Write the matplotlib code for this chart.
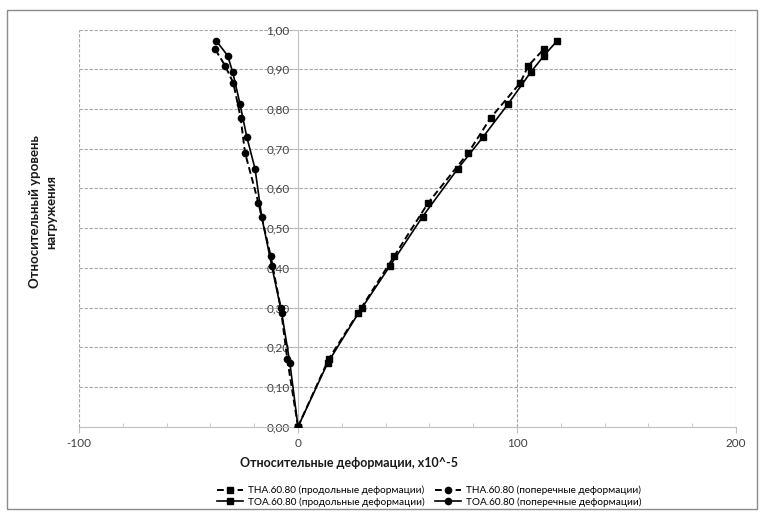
import matplotlib
matplotlib.use("Agg")
import matplotlib.pyplot as plt
from matplotlib.ticker import MultipleLocator, FixedLocator, FuncFormatter
from matplotlib.patches import Rectangle

plt.rcParams['font.family'] = ['Lato', 'DejaVu Sans']
plt.rcParams['axes.unicode_minus'] = False

# Load levels
load_tha = [0, 0.17, 0.30, 0.43, 0.564, 0.69, 0.778, 0.865, 0.909, 0.951]
load_toa = [0, 0.16, 0.285, 0.405, 0.529, 0.649, 0.73, 0.813, 0.892, 0.934, 0.972]

# Strains, x10^-5
tha_long = [0, 14, 29, 44, 59.5, 77.8, 88, 101.4, 105.2, 112.3]
tha_trans = [0, -4.9, -7.9, -12.5, -18.1, -24.2, -26.2, -29.5, -33.3, -37.9]
toa_long = [0, 13.5, 27.5, 42, 56.9, 72.9, 84.6, 96, 106.2, 112.3, 118.4]
toa_trans = [0, -3.7, -7.4, -12, -16.6, -19.6, -23.4, -26.5, -29.8, -32.1, -37.4]

labels = ["THA.60.80 (продольные деформации)", "THA.60.80 (поперечные деформации)",
          "TOA.60.80 (продольные деформации)", "TOA.60.80 (поперечные деформации)"]
x_ticks = [-100, 0, 100, 200]
y_ticks = [0.0, 0.1, 0.2, 0.3, 0.4, 0.5, 0.6, 0.7, 0.8, 0.9, 1.0]
ylabel_lines = ["Относительный уровень", "нагружения"]

fig = plt.figure(figsize=(7.64, 5.12), dpi=100)
ax = fig.add_axes([79/764, 1-426.7/512, (736-79)/764, (426.7-29.5)/512])

ax.set_xlim(-100, 200)
ax.set_ylim(0, 1.0)

grid_kw = dict(color='#a6a6a6', lw=0.8, ls=(0, (3, 1.5)), zorder=0)
for yv in y_ticks[1:]:
    ax.axhline(yv, **grid_kw)
for xv in [-100, 100, 200]:
    ax.axvline(xv, **grid_kw)

for s in ['top', 'right']:
    ax.spines[s].set_visible(False)
ax.spines['left'].set_position(('data', 0))
ax.spines['left'].set_color('#bfbfbf')
ax.spines['bottom'].set_color('#bfbfbf')
ax.spines['left'].set_zorder(1)

ax.xaxis.set_major_locator(FixedLocator(x_ticks))
ax.xaxis.set_minor_locator(MultipleLocator(20))
ax.yaxis.set_major_locator(FixedLocator(y_ticks))
ax.yaxis.set_major_formatter(FuncFormatter(lambda v, p: f"{v:.2f}".replace('.', ',')))
ax.tick_params(axis='x', which='major', length=4, color='#bfbfbf', labelsize=8.5,
               labelcolor='#404040', pad=4)
ax.tick_params(axis='x', which='minor', length=3, direction='in', color='#bfbfbf')
ax.tick_params(axis='y', which='major', length=4, color='#bfbfbf', labelsize=8.5,
               labelcolor='#404040', pad=2)

dash = (0, (3.5, 1.8))
h1, = ax.plot(tha_long, load_tha, color='black', lw=1.4, ls=dash, marker='s', ms=5,
              label=labels[0], zorder=3)
h2, = ax.plot(tha_trans, load_tha, color='black', lw=1.4, ls=dash, marker='o', ms=4.5,
              label=labels[1], zorder=3)
h3, = ax.plot(toa_long, load_toa, color='black', lw=1.2, ls='-', marker='s', ms=5,
              label=labels[2], zorder=3)
h4, = ax.plot(toa_trans, load_toa, color='black', lw=1.2, ls='-', marker='o', ms=4.5,
              label=labels[3], zorder=3)

fig.text(349/764, 1-463/512, "Относительные деформации, x10^-5", ha='center', va='center',
         fontsize=9, fontweight='bold', color='#1a1a1a')
for line, xp in zip(ylabel_lines, [35, 51]):
    fig.text(xp/764, 1-212/512, line, ha='center', va='center', rotation=90,
             fontsize=9.5, fontweight='bold', color='#1a1a1a')

# column-major fill: order so rows read THA / TOA
order = [h1, h3, h2, h4]
leg = fig.legend(order, [h.get_label() for h in order], ncol=2, loc='center',
                 bbox_to_anchor=(429/764, 1-496/512),
                 frameon=False, fontsize=7.2, handlelength=2.6, columnspacing=1.0,
                 handletextpad=0.5, labelspacing=0.2, borderpad=0)

fig.patches.append(Rectangle((7/764, 3/512), 750/764, 499/512, transform=fig.transFigure,
                             fill=False, edgecolor='#8c8c8c', lw=1.0))

fig.savefig("out.png", dpi=100)
